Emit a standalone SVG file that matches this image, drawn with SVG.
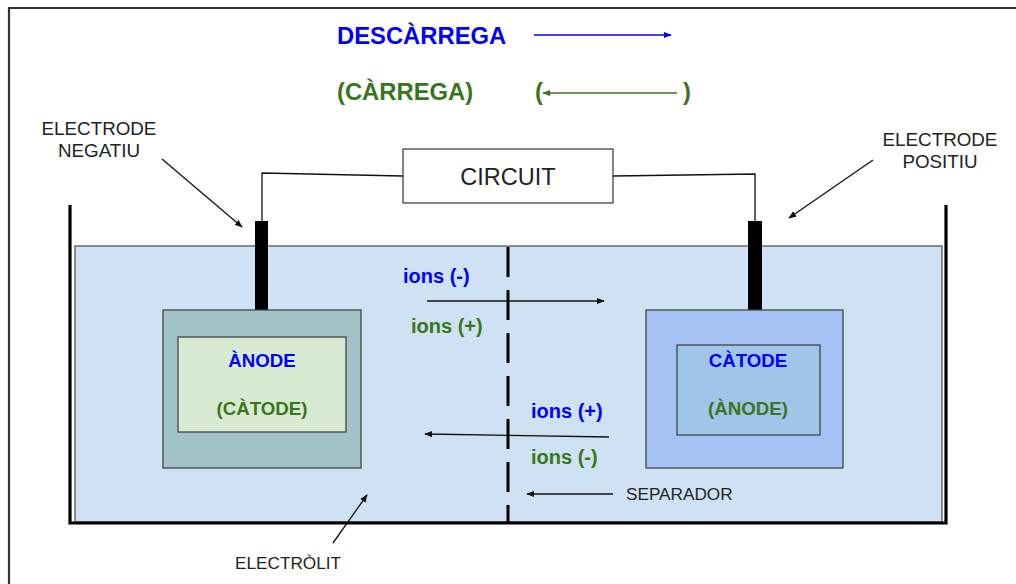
<svg xmlns="http://www.w3.org/2000/svg" width="1016" height="584" viewBox="0 0 1016 584">
<style>
text{font-family:"Liberation Sans",Arial,sans-serif}
.lbl{font-size:18.8px;fill:#222}
.sm{font-size:17.2px}
.blue{fill:#0000ff;font-weight:bold}
.green{fill:#38761d;font-weight:bold}
.box{stroke:#444;stroke-width:1.3}
.ln{stroke:#111;stroke-width:1.3;fill:none}
</style>
<defs>
<marker id="ah" viewBox="0 0 10 10" refX="9" refY="5" markerWidth="8" markerHeight="8" markerUnits="userSpaceOnUse" orient="auto">
<path d="M0,1 L10,5 L0,9 Z" fill="#111"/>
</marker>
<marker id="ahb" viewBox="0 0 10 10" refX="9" refY="5" markerWidth="8" markerHeight="8" markerUnits="userSpaceOnUse" orient="auto">
<path d="M0,1 L10,5 L0,9 Z" fill="#0000ff"/>
</marker>
<marker id="ahg" viewBox="0 0 10 10" refX="9" refY="5" markerWidth="8" markerHeight="8" markerUnits="userSpaceOnUse" orient="auto">
<path d="M0,1 L10,5 L0,9 Z" fill="#38761d"/>
</marker>
</defs>
<rect width="1016" height="584" fill="#fff"/>
<g id="frame">
<line x1="8" y1="8" x2="1016" y2="8" stroke="#333" stroke-width="2.2"/>
<line x1="9" y1="7" x2="9" y2="584" stroke="#333" stroke-width="2.2"/>
</g>
<g id="legend">
<text x="337" y="44" class="blue" font-size="23.8">DESCÀRREGA</text>
<line x1="534" y1="35" x2="671" y2="35" stroke="#0000ff" stroke-width="1.3" marker-end="url(#ahb)"/>
<text x="337" y="100" class="green" font-size="23.8">(CÀRREGA)</text>
<text x="535" y="100" class="green" font-size="23.8">(</text>
<line x1="677" y1="93" x2="543" y2="93" stroke="#38761d" stroke-width="1.3" marker-end="url(#ahg)"/>
<text x="683" y="100" class="green" font-size="23.8">)</text>
</g>
<g id="electrolit">
<rect x="75" y="246" width="867" height="276" fill="#cfe2f3" stroke="#555" stroke-width="1.3"/>
<path d="M70,205 V523 H946 V205" fill="none" stroke="#000" stroke-width="3.2"/>
</g>
<g id="circuit">
<rect x="403" y="149" width="210" height="54" fill="#fff" class="box"/>
<text x="508" y="185" font-size="23.5" fill="#222" text-anchor="middle">CIRCUIT</text>
</g>
<g id="electrode-negatiu">
<rect x="255" y="221" width="13" height="89" fill="#000"/>
</g>
<g id="electrode-positiu">
<rect x="748" y="221" width="14" height="89" fill="#000"/>
</g>
<g id="anode">
<rect x="163" y="310" width="198" height="158" fill="#a2c4c9" class="box"/>
<rect x="178" y="337" width="168" height="95" fill="#d9ead3" class="box"/>
<text x="262" y="367" class="blue" font-size="18.7" text-anchor="middle">ÀNODE</text>
<text x="262" y="415" class="green" font-size="18.7" text-anchor="middle">(CÀTODE)</text>
</g>
<g id="catode">
<rect x="646" y="310" width="197" height="158" fill="#a4c2f4" class="box"/>
<rect x="677" y="345" width="143" height="90" fill="#9fc5e8" class="box"/>
<text x="748" y="367" class="blue" font-size="18.7" text-anchor="middle">CÀTODE</text>
<text x="748" y="415" class="green" font-size="18.7" text-anchor="middle">(ÀNODE)</text>
</g>
<g id="separador">
<line x1="508" y1="247" x2="508" y2="522" stroke="#000" stroke-width="3" stroke-dasharray="30 13"/>
</g>
<g id="labels">
<text x="99" y="135" class="lbl" text-anchor="middle">ELECTRODE</text>
<text x="99" y="157" class="lbl" text-anchor="middle">NEGATIU</text>
<text x="940" y="146" class="lbl" text-anchor="middle">ELECTRODE</text>
<text x="940" y="168" class="lbl" text-anchor="middle">POSITIU</text>
<text x="626" y="500" class="lbl sm">SEPARADOR</text>
<text x="235" y="569" class="lbl sm">ELECTRÒLIT</text>
<text x="403" y="283" class="blue" font-size="20">ions (-)</text>
<text x="411" y="333" class="green" font-size="20">ions (+)</text>
<text x="531" y="418" class="blue" font-size="20">ions (+)</text>
<text x="531" y="464" class="green" font-size="20">ions (-)</text>
</g>
<g id="connectors">
<polyline class="ln" points="403,176 262,173 262,221"/>
<polyline class="ln" points="613,176 755,174 755,221"/>
<line class="ln" x1="162" y1="159" x2="242" y2="227" marker-end="url(#ah)"/>
<line class="ln" x1="873" y1="160" x2="789" y2="218" marker-end="url(#ah)"/>
<line class="ln" x1="427" y1="301" x2="604" y2="301" marker-end="url(#ah)"/>
<line class="ln" x1="609" y1="437" x2="425" y2="434" marker-end="url(#ah)"/>
<line class="ln" x1="613" y1="494" x2="527" y2="494" marker-end="url(#ah)"/>
<line class="ln" x1="333" y1="543" x2="367" y2="495" marker-end="url(#ah)"/>
</g>
</svg>
